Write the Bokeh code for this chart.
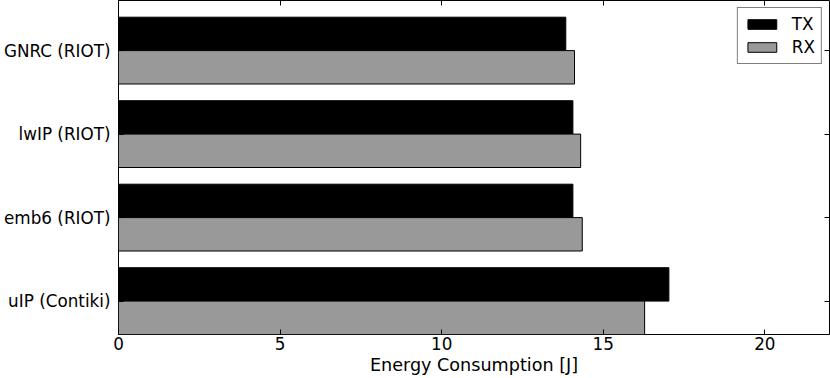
from bokeh.plotting import figure
from bokeh.models import Range1d, FixedTicker, LinearAxis, Legend, LegendItem, ColumnDataSource
from bokeh.embed import file_html
from bokeh.resources import INLINE

categories = ["GNRC (RIOT)", "lwIP (RIOT)", "emb6 (RIOT)", "uIP (Contiki)"]
tx_values = [13.84, 14.06, 14.06, 17.03]
rx_values = [14.11, 14.30, 14.35, 16.28]
x_ticks = [0, 5, 10, 15, 20]

n = len(categories)
group_base = [n - 1 - i for i in range(n)]
src = ColumnDataSource(dict(
    cat=categories,
    tx=tx_values,
    rx=rx_values,
    y_tx=[b + 0.6 for b in group_base],
    y_rx=[b + 0.2 for b in group_base],
))

FONT = "DejaVu Sans"
FS = "16.8px"

p = figure(width=830, height=378, x_range=Range1d(0, 22), y_range=Range1d(0, n),
           output_backend="svg", toolbar_location=None,
           min_border_left=0, min_border_right=1, min_border_top=0, min_border_bottom=44,
           x_axis_label="Energy Consumption [J]")
p.xgrid.visible = False
p.ygrid.visible = False
p.outline_line_color = "black"
p.outline_line_width = 1
p.background_fill_color = "white"
p.border_fill_color = "white"

r_tx = p.hbar(y="y_tx", right="tx", left=0, height=0.4, source=src,
              fill_color="black", line_color="black", line_width=1)
r_rx = p.hbar(y="y_rx", right="rx", left=0, height=0.4, source=src,
              fill_color="#999999", line_color="black", line_width=1)

ytick_pos = [b + 0.4 for b in group_base]
overrides = {yt: c for yt, c in zip(ytick_pos, categories)}

# bottom axis
xa = p.xaxis[0]
xa.ticker = FixedTicker(ticks=x_ticks)
xa.minor_tick_line_color = None
xa.major_tick_in = 5
xa.major_tick_out = 0
xa.axis_line_color = None
xa.major_label_text_font = FONT
xa.major_label_text_font_size = FS
xa.major_label_text_color = "black"
xa.major_label_standoff = 2
xa.axis_label_text_font = FONT
xa.axis_label_text_font_size = "17.6px"
xa.axis_label_text_font_style = "normal"
xa.axis_label_text_color = "black"
xa.axis_label_standoff = 2

# left axis
ya = p.yaxis[0]
ya.ticker = FixedTicker(ticks=ytick_pos)
ya.major_label_overrides = overrides
ya.minor_tick_line_color = None
ya.major_tick_in = 5
ya.major_tick_out = 0
ya.axis_line_color = None
ya.major_label_text_font = FONT
ya.major_label_text_font_size = FS
ya.major_label_text_color = "black"
ya.major_label_standoff = 8

# top and right axes (ticks only, empty labels)
top = LinearAxis(ticker=FixedTicker(ticks=x_ticks), major_tick_in=5, major_tick_out=0,
                 minor_tick_line_color=None, axis_line_color=None,
                 major_label_overrides={t: "" for t in x_ticks},
                 major_label_orientation="vertical", major_label_standoff=0)
right = LinearAxis(ticker=FixedTicker(ticks=ytick_pos), major_tick_in=5, major_tick_out=0,
                   minor_tick_line_color=None, axis_line_color=None,
                   major_label_overrides={t: "" for t in ytick_pos},
                   major_label_standoff=0)
p.add_layout(top, "above")
p.add_layout(right, "right")

legend = Legend(items=[LegendItem(label="TX", renderers=[r_tx]),
                       LegendItem(label="RX", renderers=[r_rx])],
                location="top_right")
legend.label_text_font = FONT
legend.label_text_font_size = FS
legend.label_text_color = "black"
legend.glyph_width = 36
legend.glyph_height = 12
legend.label_standoff = 12
legend.spacing = 3
legend.padding = 6
legend.margin = 7
legend.border_line_color = "black"
legend.border_line_width = 1
legend.background_fill_color = "white"
legend.background_fill_alpha = 1
p.add_layout(legend, "center")

open("out.html", "w").write(file_html(p, INLINE))
